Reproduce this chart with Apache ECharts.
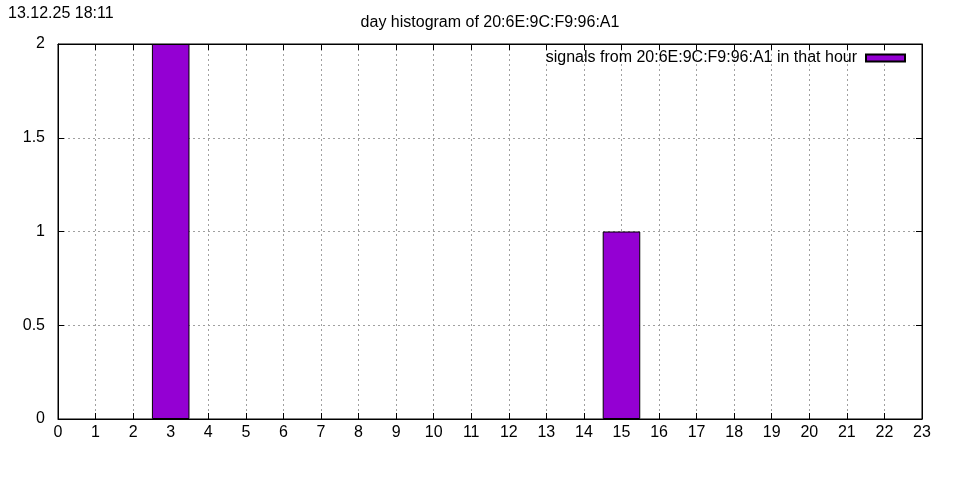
<!DOCTYPE html>
<html><head><meta charset="utf-8">
<script src="https://cdn.jsdelivr.net/npm/echarts@6/dist/echarts.min.js"></script>
<style>html,body{margin:0;padding:0;background:#fff}#c{width:960px;height:480px}</style>
</head><body><div id="c"></div>
<script>
const hours = [0,1,2,3,4,5,6,7,8,9,10,11,12,13,14,15,16,17,18,19,20,21,22,23];
const counts = [0,0,0,2,0,0,0,0,0,0,0,0,0,0,0,1,0,0,0,0,0,0,0,0];
const titleText = 'day histogram of 20:6E:9C:F9:96:A1';
const stampText = '13.12.25 18:11';
const seriesName = 'signals from 20:6E:9C:F9:96:A1 in that hour';

const FONT = 'Liberation Sans, Arial, sans-serif';
const chart = echarts.init(document.getElementById('c'), null, {renderer:'canvas'});
const grid = {left:58, right:38, top:44, bottom:61};
const plotW = 960 - grid.left - grid.right;
const splitStyle = {show:true, lineStyle:{color:'#a0a0a0', type:[2,3], width:1}};
const tickStyle = {show:true, inside:true, length:6, lineStyle:{color:'#000'}};
chart.setOption({
  backgroundColor:'#fff',
  animation:false,
  title:[
    {text:stampText, left:8, top:6, padding:0, textStyle:{fontFamily:FONT, fontSize:16, fontWeight:'normal', color:'#000'}},
    {text:titleText, left:490, textAlign:'center', top:15, padding:0, textStyle:{fontFamily:FONT, fontSize:16, fontWeight:'normal', color:'#000'}}
  ],
  legend:{
    right:54, top:50, padding:0, align:'right', icon:'rect', itemWidth:39, itemHeight:7, itemGap:10,
    textStyle:{fontFamily:FONT, fontSize:16, color:'#000', padding:[0,4,0,0]},
    data:[seriesName]
  },
  grid:Object.assign({show:true, borderColor:'#000', borderWidth:1, backgroundColor:'#fff'}, grid),
  xAxis:[
    {type:'value', min:0, max:23, interval:1, position:'bottom',
     axisLine:{show:true, onZero:false, lineStyle:{color:'#000'}},
     axisTick:tickStyle,
     axisLabel:{fontFamily:FONT, fontSize:16, color:'#000', margin:6},
     splitLine:splitStyle},
    {type:'value', min:0, max:23, interval:1, position:'top',
     axisLine:{show:true, onZero:false, lineStyle:{color:'#000'}},
     axisTick:tickStyle,
     axisLabel:{show:false}, splitLine:{show:false}}
  ],
  yAxis:[
    {type:'value', min:0, max:2, interval:0.5, position:'left',
     axisLine:{show:true, onZero:false, lineStyle:{color:'#000'}},
     axisTick:tickStyle,
     axisLabel:{fontFamily:FONT, fontSize:16, color:'#000', margin:13},
     splitLine:splitStyle},
    {type:'value', min:0, max:2, interval:0.5, position:'right',
     axisLine:{show:true, onZero:false, lineStyle:{color:'#000'}},
     axisTick:tickStyle,
     axisLabel:{show:false}, splitLine:{show:false}}
  ],
  series:[{
    name:seriesName, type:'bar', xAxisIndex:0, yAxisIndex:0,
    barWidth: plotW/23,
    data: hours.map((h,i)=>[h, counts[i]]).filter(d=>d[1]>0),
    itemStyle:{color:'#9400D3', borderColor:'#000', borderWidth:1},
    z:3
  }]
});
</script></body></html>
